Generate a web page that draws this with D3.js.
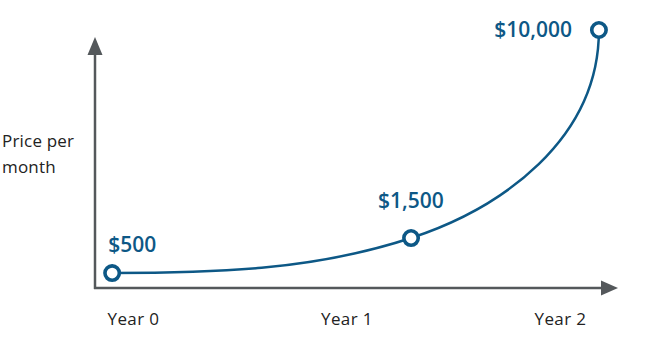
<!DOCTYPE html>
<html>
<head>
<meta charset="utf-8">
<script src="https://cdn.jsdelivr.net/npm/d3@7"></script>
<style>
  html, body { margin: 0; padding: 0; background: #fff; }
  svg { display: block; }
</style>
</head>
<body>
<svg id="chart" width="662" height="358"></svg>
<script>
// ---- data ----
const yearTicks = [0, 1, 2];
const yearLabels = ["Year 0", "Year 1", "Year 2"];
const pointYears = [-0.1, 1.3, 2.18];
const prices = [500, 1500, 10000];
const priceLabels = ["$500", "$1,500", "$10,000"];
const yTitle = ["Price per", "month"];

// ---- layout ----
const W = 662, H = 358;
const axisX = 95, axisY = 288;
const lineColor = "#0d5886";
const axisColor = "#54585b";

const svg = d3.select("#chart");

const x = d3.scaleLinear().domain([0, 2]).range([133.5, 560.5]);
const y = d3.scalePow().exponent(0.785).domain([0, 10000]).range([298.6, 30]);

// axes
svg.append("line").attr("x1", axisX).attr("y1", axisY + 1).attr("x2", axisX).attr("y2", 50)
  .attr("stroke", axisColor).attr("stroke-width", 2.5);
svg.append("path").attr("d", d3.line()([[axisX, 37], [axisX - 7.5, 55], [axisX + 7.5, 55]]) + "Z")
  .attr("fill", axisColor);
svg.append("line").attr("x1", axisX - 1).attr("y1", axisY).attr("x2", 605).attr("y2", axisY)
  .attr("stroke", axisColor).attr("stroke-width", 2.5);
svg.append("path").attr("d", d3.line()([[618, axisY], [601, axisY - 7.5], [601, axisY + 7.5]]) + "Z")
  .attr("fill", axisColor);

// x tick labels
svg.append("g").selectAll("text").data(yearTicks).join("text")
  .attr("x", d => x(d)).attr("y", 325)
  .attr("text-anchor", "middle")
  .attr("font-family", "'Open Sans', sans-serif").attr("font-size", 17)
  .attr("letter-spacing", 0.4)
  .attr("fill", "#222")
  .text((d, i) => yearLabels[i]);

// y title
svg.append("text").attr("font-family", "'Open Sans', sans-serif").attr("font-size", 17)
  .attr("fill", "#222").attr("letter-spacing", 0.2)
  .selectAll("tspan").data(yTitle).join("tspan")
  .attr("x", 2).attr("y", (d, i) => 147 + i * 26).text(d => d);

// curve
const pts = pointYears.map((d, i) => [x(d), y(prices[i])]);
const p = d3.path();
p.moveTo(pts[0][0], pts[0][1]);
{
  const [x0, y0] = pts[0], [x1, y1] = pts[1], [x2, y2] = pts[2];
  const midSlope = -0.33;
  const d1 = (x1 - x0) / 3;
  p.bezierCurveTo(x0 + d1, y0, x1 - d1, y1 - midSlope * d1, x1, y1);
  const k = 90;
  p.bezierCurveTo(x1 + k, y1 + midSlope * k, x2, y2 + 110, x2, y2);
}
svg.append("path").attr("d", p.toString())
  .attr("fill", "none").attr("stroke", lineColor).attr("stroke-width", 2.5);

// points
svg.append("g").selectAll("circle").data(pts).join("circle")
  .attr("cx", d => d[0]).attr("cy", d => d[1]).attr("r", 7.2)
  .attr("fill", "#fff").attr("stroke", lineColor).attr("stroke-width", 3.6);

// value labels
const labelOffsets = [[-4, -21, "start"], [-33, -30, "start"], [-27, 7, "end"]];
svg.append("g").selectAll("text").data(pts).join("text")
  .attr("x", (d, i) => d[0] + labelOffsets[i][0])
  .attr("y", (d, i) => d[1] + labelOffsets[i][1])
  .attr("text-anchor", (d, i) => labelOffsets[i][2])
  .attr("font-family", "'Open Sans', sans-serif").attr("font-size", 21).attr("font-weight", 600)
  .attr("fill", lineColor)
  .text((d, i) => priceLabels[i]);
</script>
</body>
</html>
